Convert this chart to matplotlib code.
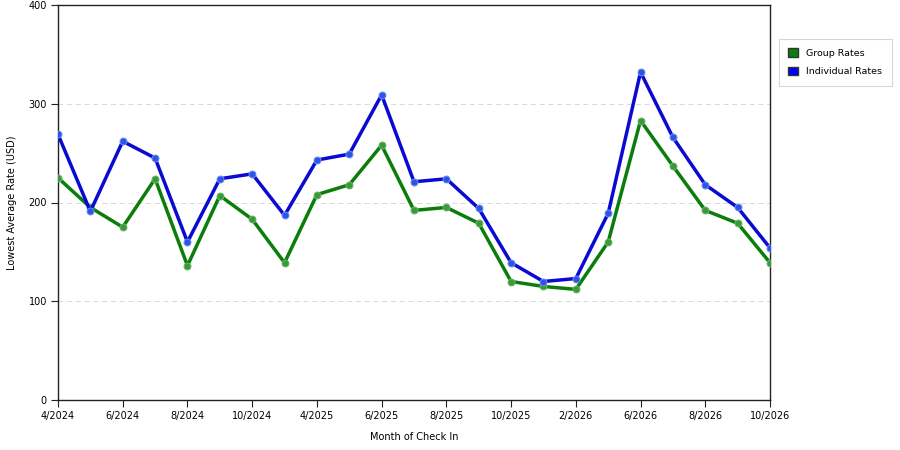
import matplotlib
matplotlib.use('Agg')
import matplotlib.pyplot as plt
from matplotlib.patches import Patch

months = ['4/2024', '5/2024', '6/2024', '7/2024', '8/2024', '9/2024', '10/2024', '11/2024',
          '4/2025', '5/2025', '6/2025', '7/2025', '8/2025', '9/2025', '10/2025', '11/2025',
          '2/2026', '4/2026', '6/2026', '7/2026', '8/2026', '9/2026', '10/2026']
group_rates = [225, 195, 175, 224, 136, 207, 183, 139, 208, 218, 258, 192, 195, 179, 120, 115,
               112, 160, 283, 237, 192, 179, 139]
individual_rates = [269, 191, 262, 245, 160, 224, 229, 187, 243, 249, 309, 221, 224, 194, 139, 120,
                    123, 189, 332, 266, 218, 195, 154]
y_ticks = [0, 100, 200, 300, 400]

# plot parameters
fig = plt.figure(figsize=(9, 4.5), dpi=100, facecolor='white')
ax = fig.add_axes([58/900, 50/450, 712/900, 395/450])

green = '#0b7d0b'
blue = '#0a0ad2'
x = list(range(len(months)))

ax.plot(x, group_rates, color=green, lw=2.5, marker='o', ms=5,
        mfc='#3a9a3a', mec='#6bb56b', mew=0.7, zorder=3, solid_joinstyle='round')
ax.plot(x, individual_rates, color=blue, lw=2.5, marker='o', ms=5,
        mfc='#2a55e8', mec='#6f8ff0', mew=0.7, zorder=4, solid_joinstyle='round')

ax.set_xlim(0, len(months) - 1)
ax.set_ylim(0, 400)
ax.set_xticks(x[::2])
ax.set_xticklabels(months[::2], fontsize=7)
ax.set_yticks(y_ticks)
ax.set_yticklabels([str(v) for v in y_ticks], fontsize=7)
ax.tick_params(direction='out', length=5, width=0.8, color='#222222', pad=3)

for v in y_ticks[1:-1]:
    ax.axhline(v, color='#d8d8d8', lw=0.7, ls=(0, (5, 4)), zorder=1)

for s in ax.spines.values():
    s.set_color('#222222')
    s.set_linewidth(1.0)

ax.set_xlabel('Month of Check In', fontsize=7, labelpad=8)
ax.set_ylabel('Lowest Average Rate (USD)', fontsize=7, labelpad=8)

handles = [Patch(facecolor='#0b7d0b', edgecolor='#333333', label='Group Rates'),
           Patch(facecolor='#0000ff', edgecolor='#333333', label='Individual Rates')]
leg = fig.legend(handles=handles, loc='upper left', bbox_to_anchor=(779/900, 1 - 39/450),
                 fontsize=6.8, frameon=True, fancybox=False, edgecolor='#cccccc',
                 handlelength=1.0, handleheight=1.0, handletextpad=0.9, borderpad=1.0,
                 labelspacing=0.95, borderaxespad=0)
leg.get_frame().set_linewidth(0.8)

fig.savefig('out.png', dpi=100)
